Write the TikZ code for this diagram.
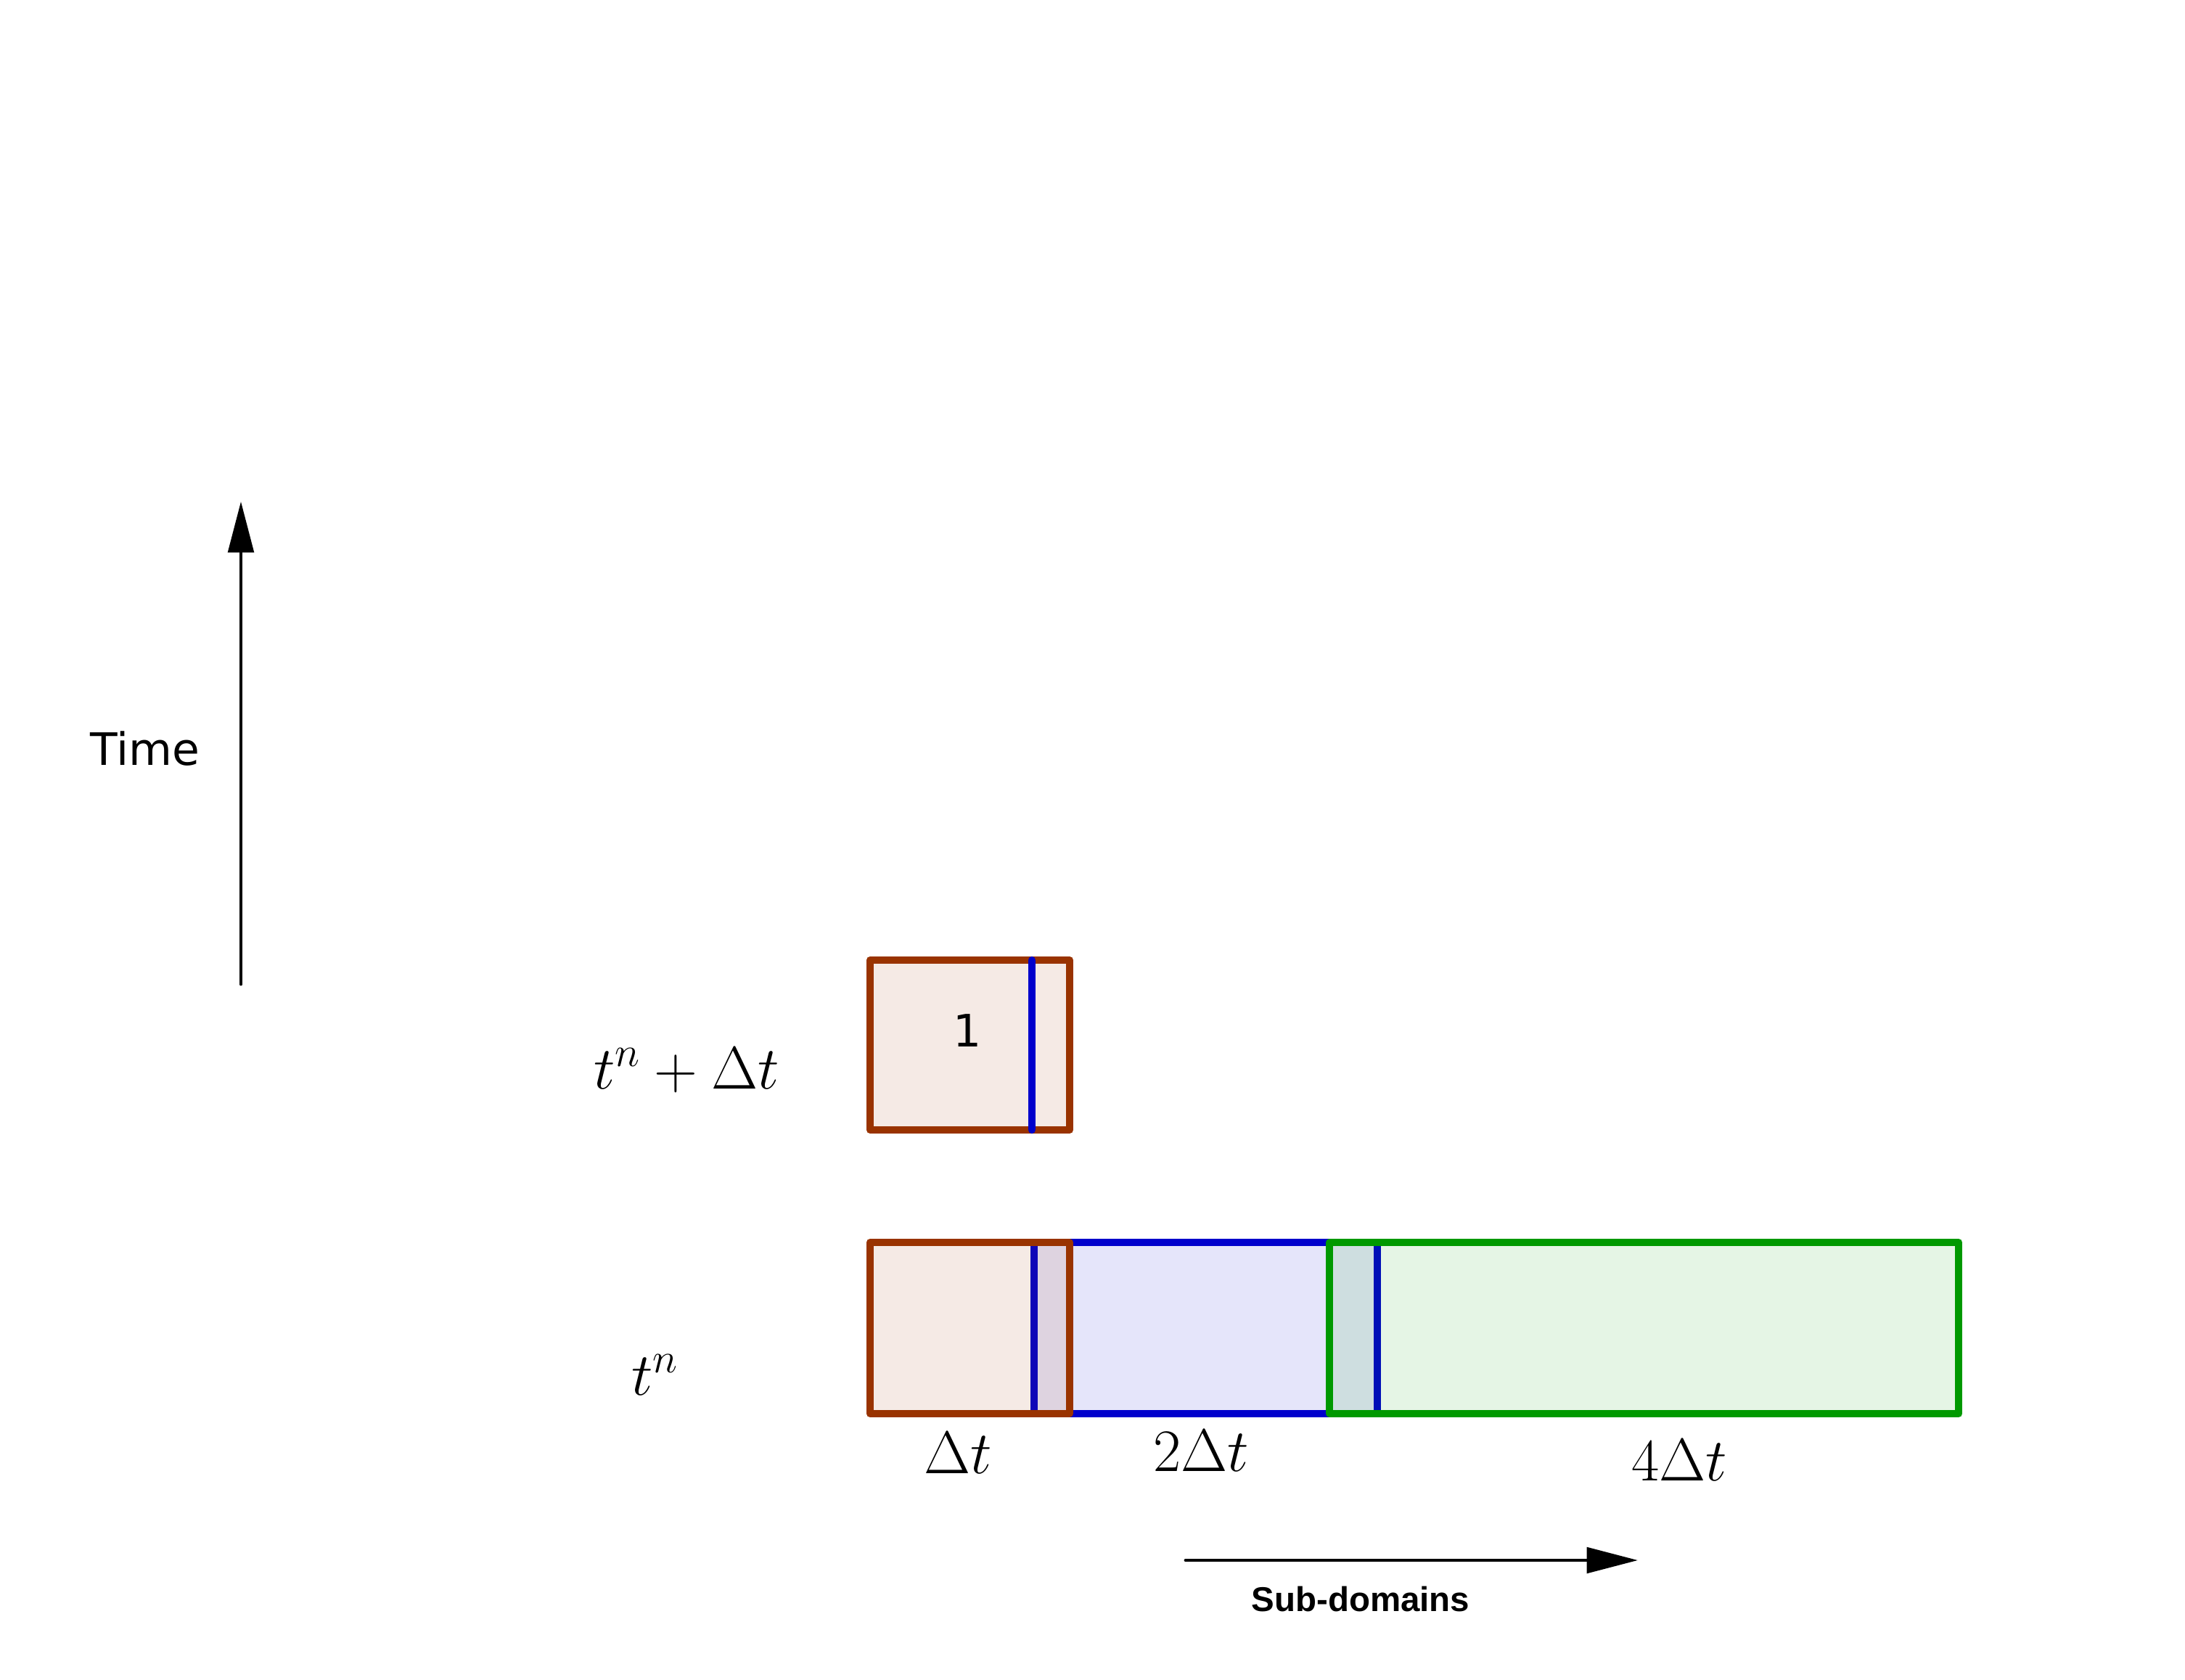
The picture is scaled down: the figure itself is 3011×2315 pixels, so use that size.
\RequirePackage{fix-cm}
\documentclass[tikz,border=0pt]{standalone}
\usepackage{fontspec}
\newfontfamily\dejavu{DejaVu Sans}
\newfontfamily\arialbf{Liberation Sans}
\usetikzlibrary{arrows.meta}
\definecolor{brownc}{HTML}{993300}
\definecolor{bluec}{HTML}{0000CC}
\definecolor{greenc}{HTML}{009900}
\begin{document}
\begin{tikzpicture}[x=0.01cm,y=-0.01cm,
  dom/.style={line width=2.9pt, line join=round, draw=#1, fill=#1, fill opacity=0.1},
  sepline/.style={line width=2.9pt, line cap=round, draw=bluec},
  mathlab/.style={font=\fontsize{23.6}{28}\selectfont, inner sep=0pt, anchor=base},
  sanslab/.style={font=\dejavu\fontsize{17.5}{21}\selectfont, inner sep=0pt},
  axis/.style={line width=1.4pt, line cap=round, -{Triangle[length=20pt,width=10pt]}}
]
\useasboundingbox (0,0) rectangle (3011,2315);
% top row
\draw[dom=brownc] (1199,1323) rectangle (1474,1557);
\coordinate (st) at (1422,1323);
\coordinate (sb) at (1422,1557);
\draw[sepline] (st) -- (sb);
\node[sanslab] (one) at (1333,1420) {1};
% bottom row
\draw[dom=bluec] (1425,1712) rectangle (1898,1948);
\draw[dom=brownc] (1199,1712) rectangle (1474,1948);
\draw[dom=greenc] (1832,1712) rectangle (2699,1948);
% labels
\node[mathlab] (ltop) at (946,1500) {$t^n+\Delta t$};
\node[mathlab] (lbot) at (903,1922) {$t^n$};
\node[mathlab] (l1) at (1320,2030) {$\Delta t$};
\node[mathlab] (l2) at (1655,2027) {$2\Delta t$};
\node[mathlab] (l4) at (2314,2040) {$4\Delta t$};
% time axis
\coordinate (tb) at (332,1356);
\coordinate (tt) at (332,691);
\draw[axis] (tb) -- (tt);
\node[sanslab] (time) at (200,1032) {Time};
% sub-domain axis
\coordinate (sl) at (1634,2150);
\coordinate (sr) at (2257,2150);
\draw[axis] (sl) -- (sr);
\node[font=\arialbf\bfseries\fontsize{13.5}{16}\selectfont, inner sep=0pt] (sub) at (1875,2204) {Sub-domains};
\end{tikzpicture}
\end{document}
